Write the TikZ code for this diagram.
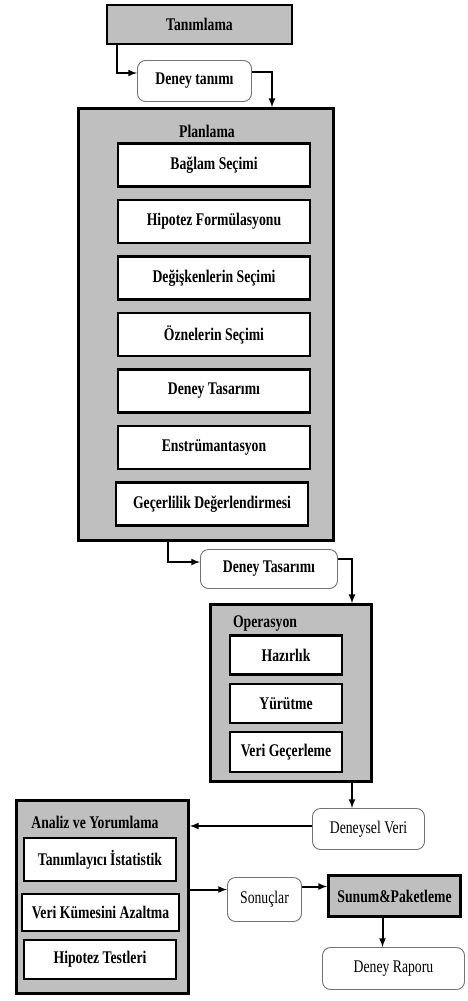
\documentclass[tikz,border=0pt]{standalone}
\usepackage{fontspec}
\setmainfont{Liberation Serif}[FakeStretch=0.77]
\usepackage{tikz}
\usetikzlibrary{shapes,arrows,calc,positioning}
\newcommand{\yazi}{\fontsize{17.8}{19}\selectfont}
\tikzset{grp/.style={draw, rectangle, line width=2.6pt, fill=black!25, inner sep=0pt}}
\tikzstyle{ic}=[draw, rectangle, line width=2.2pt, fill=white, minimum width=192pt, minimum height=43pt, inner sep=0pt, font=\yazi\bfseries]
\tikzstyle{rd}=[draw=black!55, rectangle, rounded corners=8pt, line width=0.9pt, fill=white, inner sep=0pt, font=\yazi]
\tikzstyle{ok}=[->, line width=2pt]

\begin{document}
\begin{tikzpicture}[x=1pt, y=1pt, >=latex, node distance=11.3pt]
\useasboundingbox (0,0) rectangle (467,-1001);

\node[grp, minimum width=185pt, minimum height=39pt, font=\yazi\bfseries] (tanim) at (199.5,-24.5) {Tanımlama};
\node[rd, minimum width=114pt, minimum height=41pt, font=\yazi\bfseries] (dtanim) at (194.5,-81) {Deney tanımı};

% Planlama
\node[grp, minimum width=255pt, minimum height=432pt] (plan) at (206,-324.5) {};
\node[font=\yazi\bfseries] (plantit) at (207,-131) {Planlama};
\node[ic] (baglam) at (214,-165) {Bağlam Seçimi};
\node[ic, below=of baglam] (hipotez) {Hipotez Formülasyonu};
\node[ic, below=of hipotez] (degisken) {Değişkenlerin Seçimi};
\node[ic, below=of degisken] (ozne) {Öznelerin Seçimi};
\node[ic, below=of ozne] (tasarim) {Deney Tasarımı};
\node[ic, below=of tasarim] (enstr) {Enstrümantasyon};
\node[ic, below=of enstr, xshift=-2pt] (gecer) {Geçerlilik Değerlendirmesi};

\node[rd, minimum width=137pt, minimum height=39pt, font=\yazi\bfseries] (dtas) at (269,-569) {Deney Tasarımı};

% Operasyon
\node[grp, minimum width=161pt, minimum height=177pt] (ope) at (291,-693) {};
\node[font=\yazi\bfseries] (opetit) at (265,-624) {Operasyon};
\node[ic, minimum width=112pt, minimum height=39pt] (hazir) at (286,-655) {Hazırlık};
\node[ic, minimum width=112pt, minimum height=39pt, below=7pt of hazir] (yurut) {Yürütme};
\node[ic, minimum width=112pt, minimum height=40pt, below=7pt of yurut] (verigec) {Veri Geçerleme};

\node[rd, minimum width=112pt, minimum height=41pt] (dveri) at (368.5,-829) {Deneysel Veri};

% Analiz
\node[grp, minimum width=172pt, minimum height=193pt] (analiz) at (102.5,-897) {};
\node[font=\yazi\bfseries] (analiztit) at (95,-822) {Analiz ve Yorumlama};
\node[ic, minimum width=152pt, minimum height=43pt] (tanimla) at (100,-859.5) {Tanımlayıcı İstatistik};
\node[ic, minimum width=157pt, minimum height=37pt] (verikume) at (100.5,-912.5) {Veri Kümesini Azaltma};
\node[ic, minimum width=152pt, minimum height=39pt] (hiptest) at (100,-959.5) {Hipotez Testleri};

\node[rd, minimum width=74pt, minimum height=44pt] (sonuc) at (264.5,-899.5) {Sonuçlar};
\node[grp, minimum width=132pt, minimum height=41pt, font=\yazi\bfseries] (sunum) at (394.5,-896) {Sunum\&Paketleme};
\node[rd, minimum width=142pt, minimum height=42pt] (rapor) at (393.5,-968.5) {Deney Raporu};

\draw[ok] ([xshift=11pt]tanim.south west) |- ([yshift=8pt]dtanim.west);
\draw[ok] ([yshift=9pt]dtanim.east) -| ([xshift=66pt]plan.north);
\draw[ok] ([xshift=-38pt]plan.south) |- ([yshift=7pt]dtas.west);
\draw[ok] ([yshift=10pt]dtas.east) -| ([xshift=61pt]ope.north);
\draw[ok] ([xshift=61pt]ope.south) -- ([xshift=61pt]ope.south |- dveri.north);
\draw[ok] ([yshift=3pt]dveri.west) -- ([yshift=3pt]dveri.west -| analiz.east);
\draw[ok] ([yshift=10pt]sonuc.west -| analiz.east) -- ([yshift=10pt]sonuc.west);
\draw[ok] ([yshift=13pt]sonuc.east) -- ([yshift=13pt]sonuc.east -| sunum.west);
\draw[ok] ([xshift=-12pt]sunum.south) -- ([xshift=-12pt]sunum.south |- rapor.north);
\end{tikzpicture}
\end{document}
